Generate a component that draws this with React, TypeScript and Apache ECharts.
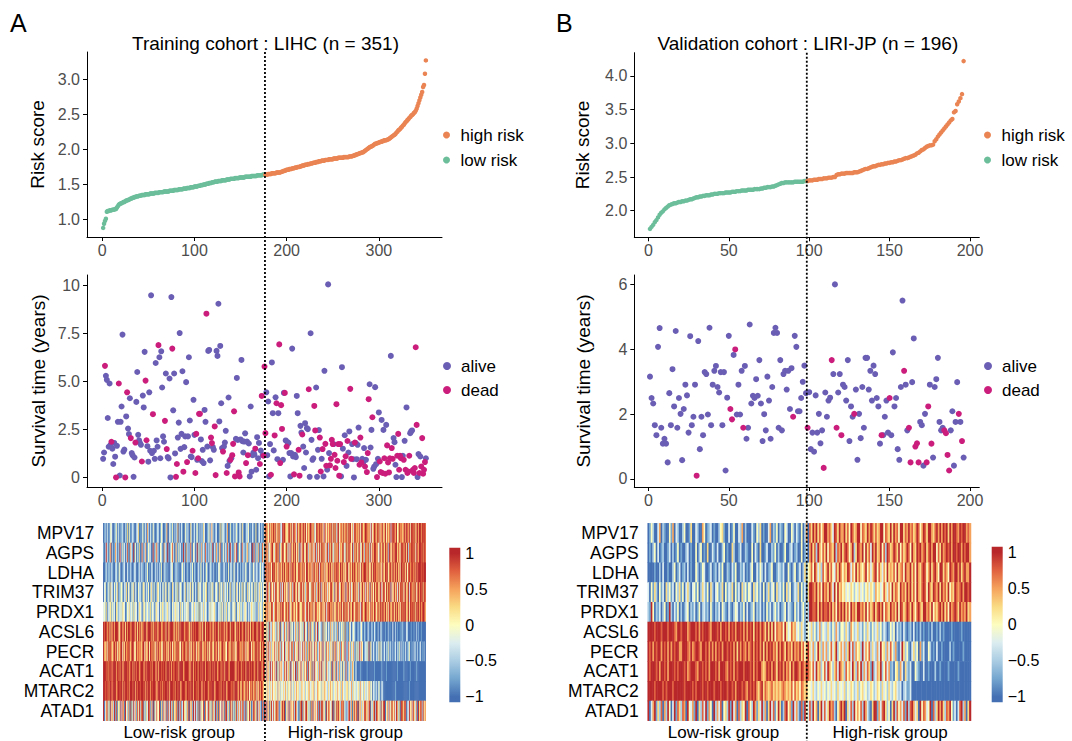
import React, { useEffect, useRef } from 'react';
import * as echarts from 'echarts';

const FONT = "'Liberation Sans', Arial, Helvetica, sans-serif";

// ---------------- data ----------------
const GENES = ['MPV17', 'AGPS', 'LDHA', 'TRIM37', 'PRDX1', 'ACSL6', 'PECR', 'ACAT1', 'MTARC2', 'ATAD1'];

const TITLE_A = 'Training cohort : LIHC (n = 351)';
const TITLE_B = 'Validation cohort : LIRI-JP (n = 196)';

const RISK_A_LOW = [
  0.88, 0.94, 0.98, 1.01, 1.11, 1.12, 1.12, 1.13, 1.13, 1.13, 1.14, 1.14, 1.14, 1.15, 1.15, 1.17, 1.19, 1.21, 1.22, 1.23,
  1.23, 1.24, 1.25, 1.25, 1.26, 1.27, 1.27, 1.28, 1.28, 1.29, 1.3, 1.3, 1.31, 1.31, 1.32, 1.32, 1.33, 1.33, 1.33, 1.34,
  1.34, 1.34, 1.35, 1.35, 1.35, 1.35, 1.36, 1.36, 1.36, 1.36, 1.36, 1.37, 1.37, 1.37, 1.37, 1.37, 1.38, 1.38, 1.38, 1.38,
  1.38, 1.39, 1.39, 1.39, 1.39, 1.39, 1.4, 1.4, 1.4, 1.4, 1.4, 1.4, 1.41, 1.41, 1.41, 1.41, 1.41, 1.42, 1.42, 1.42,
  1.42, 1.42, 1.43, 1.43, 1.43, 1.43, 1.43, 1.44, 1.44, 1.44, 1.44, 1.45, 1.45, 1.45, 1.45, 1.46, 1.46, 1.46, 1.46, 1.47,
  1.47, 1.47, 1.47, 1.48, 1.48, 1.48, 1.49, 1.49, 1.49, 1.5, 1.5, 1.5, 1.51, 1.51, 1.51, 1.52, 1.52, 1.52, 1.53, 1.53,
  1.53, 1.54, 1.54, 1.54, 1.54, 1.55, 1.55, 1.55, 1.55, 1.56, 1.56, 1.56, 1.56, 1.56, 1.57, 1.57, 1.57, 1.57, 1.58, 1.58,
  1.58, 1.58, 1.58, 1.59, 1.59, 1.59, 1.59, 1.59, 1.6, 1.6, 1.6, 1.6, 1.6, 1.6, 1.61, 1.61, 1.61, 1.61, 1.61, 1.61,
  1.61, 1.62, 1.62, 1.62, 1.62, 1.62, 1.62, 1.63, 1.63, 1.63, 1.63, 1.63, 1.63, 1.64, 1.64, 1.64,
];
const RISK_A_HIGH = [
  1.64, 1.64, 1.64, 1.65, 1.65, 1.65, 1.65, 1.66, 1.66, 1.66, 1.66, 1.66, 1.67, 1.67, 1.67, 1.67, 1.67,
  1.68, 1.68, 1.69, 1.69, 1.7, 1.7, 1.71, 1.71, 1.71, 1.72, 1.72, 1.72, 1.73, 1.73, 1.73, 1.74, 1.74, 1.74, 1.75, 1.75, 1.75, 1.76,
  1.76, 1.77, 1.77, 1.77, 1.78, 1.78, 1.78, 1.79, 1.79, 1.79, 1.8, 1.8, 1.8, 1.81, 1.81, 1.81, 1.82, 1.82, 1.82, 1.83, 1.83, 1.83, 1.84, 1.84, 1.84, 1.84, 1.85, 1.85, 1.85,
  1.85, 1.86, 1.86, 1.86, 1.86, 1.86, 1.87, 1.87, 1.87, 1.87, 1.87, 1.88, 1.88, 1.88, 1.88, 1.88, 1.88, 1.89, 1.89, 1.89, 1.89, 1.89, 1.89, 1.9, 1.9, 1.9, 1.9, 1.91,
  1.91, 1.92, 1.92, 1.93, 1.93, 1.94, 1.94, 1.95, 1.95, 1.96, 1.96, 1.97, 1.98,
  1.99, 2.0, 2.01, 2.02, 2.03, 2.04, 2.04, 2.05, 2.06, 2.07,
  2.08, 2.08, 2.09, 2.09, 2.1, 2.1, 2.11, 2.11, 2.12, 2.12, 2.13, 2.13, 2.13, 2.14, 2.14,
  2.15, 2.16, 2.17, 2.18, 2.19, 2.2, 2.21, 2.22, 2.24,
  2.25, 2.27, 2.28, 2.29, 2.31, 2.32, 2.34, 2.35, 2.37, 2.39,
  2.4, 2.42, 2.43, 2.45, 2.46, 2.48, 2.49, 2.5, 2.52, 2.53, 2.55, 2.58, 2.62, 2.66, 2.7, 2.74, 2.78, 2.82, 2.89, 2.92, 3.08, 3.27,
];

const RISK_B_LOW = [
  1.73, 1.76, 1.79, 1.83, 1.86, 1.9, 1.94, 1.97, 1.99, 2.02, 2.04, 2.06, 2.08, 2.09, 2.1, 2.11, 2.11, 2.12, 2.13, 2.13,
  2.14, 2.14, 2.15, 2.15, 2.16, 2.17, 2.17, 2.18, 2.19, 2.2, 2.2, 2.21, 2.21, 2.22, 2.22, 2.23, 2.23, 2.23, 2.24, 2.24,
  2.25, 2.25, 2.25, 2.26, 2.26, 2.26, 2.26, 2.27, 2.27, 2.27, 2.27, 2.28, 2.28, 2.28, 2.29, 2.29, 2.29, 2.3, 2.3, 2.3,
  2.3, 2.31, 2.31, 2.31, 2.31, 2.32, 2.32, 2.32, 2.32, 2.33, 2.33, 2.34, 2.34, 2.35, 2.35, 2.35, 2.36, 2.36, 2.37, 2.38,
  2.39, 2.4, 2.41, 2.41, 2.42, 2.42, 2.42, 2.42, 2.42, 2.42, 2.43, 2.43, 2.43, 2.43, 2.43, 2.43, 2.44, 2.44,
];
const RISK_B_HIGH = [
  2.44, 2.45, 2.45, 2.45, 2.46, 2.46, 2.46, 2.47, 2.47, 2.47, 2.48, 2.48, 2.48, 2.49, 2.49, 2.49, 2.5, 2.5, 2.53, 2.54,
  2.54, 2.55, 2.55, 2.55, 2.56, 2.56, 2.56, 2.56, 2.56, 2.57, 2.57, 2.57, 2.58, 2.59, 2.6, 2.61, 2.62, 2.62, 2.63, 2.64,
  2.65, 2.66, 2.66, 2.67, 2.68, 2.68, 2.69, 2.69, 2.7, 2.7, 2.71, 2.71, 2.72, 2.72, 2.73, 2.73, 2.74, 2.75, 2.75, 2.76,
  2.77, 2.78, 2.78, 2.79, 2.8, 2.81, 2.82, 2.83, 2.85, 2.86, 2.88, 2.9, 2.91, 2.93, 2.95, 2.96, 2.97, 2.97, 2.98, 3.03,
  3.06, 3.1, 3.13, 3.16, 3.19, 3.22, 3.25, 3.28, 3.31, 3.34, 3.36, 3.46, 3.48, 3.58, 3.62, 3.67, 3.73, 4.22,
];

// survival time (years), ordered by risk rank
const SURV_A = [
  0.97, 1.3, 5.82, 5.3, 5.09, 3.1, 1.6, 4.9, 1.7, 1.86, 1.5, 0.7, 1.8, 1.08, 0, 1.65, 2.9, 4.9, 0.1, 2.9,
  3.7, 7.45, 1.35, 1.45, 0, 3.18, 4.44, 2.55, 2.26, 4.13, 2.05, 1.27, 1.15, 0.03, 1.04, 1.82, 3.94, 5.5, 2.22, 1.93,
  1.79, 1.7, 0.83, 4.27, 3.65, 6.55, 5.05, 1.94, 1.63, 0.82, 4.44, 1.39, 9.5, 1.27, 3.3, 1.39, 0.97, 5.97, 1.93, 1.6,
  6.9, 6.27, 1.0, 6.58, 4.69, 2.14, 1.86, 2.95, 5.42, 1.48, 1.06, 0.99, 5.16, 0, 9.41, 6.72, 3.5, 5.42, 1.25, 0.03,
  0.7, 2.08, 2.86, 7.53, 1.49, 2.27, 5.54, 0.3, 1.58, 2.14, 4.97, 0.8, 2.14, 6.27, 2.97, 1.09, 1.06, 1.39, 4.05, 2.22,
  0.23, 2.27, 0.92, 1.0, 3.32, 3.32, 1.98, 0.85, 1.44, 0.75, 3.52, 2.9, 8.54, 1.61, 6.6, 6.65, 0.89, 2.08, 1.79, 1.58,
  1.44, 2.66, 0.12, 6.6, 6.34, 9.06, 2.92, 6.86, 3.87, 1.53, 1.35, 1.61, 1.82, 2.43, 0.23, 0.6, 4.17, 0.85, 0.92, 1.0,
  1.16, 1.75, 3.45, 0.05, 2.01, 5.19, 1.96, 0.26, 0.05, 1.98, 6.13, 1.89, 1.3, 1.87, 2.3, 0.75, 1.87, 1.16, 1.77, 0.05,
  3.7, 0.3, 1.16, 1.3, 1.2, 1.5, 0.4, 2.1, 1.0, 1.8, 0.7, 1.4, 4.25, 1.16, 1.13, 5.78,
  2.31, 4.44, 1.16, 3.96, 0.05, 1.74, 0.14, 6.0, 3.35, 1.41, 2.19, 4.18, 3.87, 0.95, 3.35, 6.94, 0.75, 3.77, 2.53, 0.92,
  4.41, 4.41, 1.93, 1.61, 1.84, 1.79, 1.27, 0.05, 1.27, 6.72, 1.09, 0.16, 1.18, 1.06, 4.25, 3.35, 1.44, 0.09, 2.69, 2.34,
  2.24, 1.61, 0.49, 2.83, 1.3, 2.57, 2.52, 4.6, 0.03, 7.52, 1.96, 0.92, 1.0, 3.73, 2.45, 4.69, 0.03, 1.44, 2.47, 2.08,
  0.31, 0.97, 1.48, 0.05, 5.56, 1.75, 0.61, 0.4, 10.07, 1.27, 0.63, 0.97, 1.96, 1.74, 1.74, 1.18, 0.49, 3.82, 0.87, 1.74,
  0.09, 1.74, 0.05, 5.75, 1.5, 0.8, 2.2, 1.1, 0.6, 1.9, 1.3,
  2.4, 4.62, 0.97, 1.74, 0.95, 0, 1.82, 1.79, 0.95, 1.7, 2.6, 0.66, 2.08, 0.78, 0.97, 0.78,
  1.53, 0.57, 0.92, 0.28, 1.27, 4.08, 4.86, 1.56, 2.48, 3.14, 0.45, 0.57, 4.71, 0.69, 0.02, 0.97, 3.39, 0.83, 0.28, 3.0,
  0.23, 2.48, 1.0, 0.19, 2.74, 1.67, 0.78, 0.26, 1.0, 6.34, 1.53, 0.97, 2.05, 1.84, 0.66, 0.02, 1.13, 2.27, 0.4, 1.13,
  1.0, 0.02, 1.13, 0.92, 1.91, 0.4, 3.65, 0.23, 0.31, 1.13, 2.31, 2.4, 2.45, 0.4, 0.23, 0.49, 6.79, 2.74, 0.02, 1.22,
  0.23, 1.09, 0.57, 2.05, 0.19, 0.4, 0.8, 1.0,
];
// 1 = dead, 0 = alive
const STATUS_A =
  '00100000010000100100' + '00001010001000010000' + '00100011000000100000' + '10000001010000010001' +
  '10000001000100000100' + '11011100000010000110' + '01100000001000100010' + '11110001100000010100' +
  '0000010000101011' +
  '10000010001010011110' + '01010000000100001100' + '10000001000001100001' + '10100110001111011111' +
  '1100' + '0101010' + '0110001000011100' + '01011100010000100110' + '10110111101100001111' +
  '10010101110001111100' + '10111110';

const SURV_B = [
  3.16, 2.5, 2.33, 1.66, 1.35, 4.08, 4.66, 1.58, 1.09, 1.24, 1.09, 0.51, 2.65, 1.66, 3.39, 2.24, 4.57, 1.58, 2.5, 2.01,
  0.58, 2.16, 2.91, 2.58, 1.43, 4.41, 1.66, 1.92, 2.91, 0.1, 4.26, 0.92, 1.92, 1.35, 3.3, 3.24, 1.99, 4.67, 1.66, 2.91,
  3.34, 3.49, 2.84, 2.67, 3.3, 1.66, 3.3, 0.26, 2.51, 4.42, 2.16, 1.84, 3.83, 4.0, 1.99, 2.91, 1.99, 3.34, 1.58, 3.49,
  1.24, 1.58, 4.77, 2.33, 2.57, 2.5, 3.08, 2.57, 3.67, 2.33, 1.17, 2.0, 1.5, 3.16, 2.42, 1.24, 2.84, 4.51, 4.67, 4.51,
  1.58, 3.67, 1.5, 3.24, 3.34, 2.76, 3.34, 2.16, 3.42, 1.92, 4.42, 4.08, 2.09, 2.09, 2.5, 3.0, 3.5, 2.65,
  1.58, 2.68, 0.92, 1.43, 0.84, 2.58, 1.43, 2.01, 1.1, 1.5, 0.34, 2.67, 1.92, 2.42, 2.51, 3.67, 3.24, 6.01, 1.58, 2.67,
  3.24, 1.35, 2.91, 2.84, 2.42, 3.67, 1.17, 2.24, 1.92, 2.01, 2.76, 0.59, 2.01, 1.26, 2.84, 1.58, 3.74, 3.74, 2.76, 3.34,
  2.42, 3.5, 3.24, 2.5, 2.24, 1.09, 1.35, 1.35, 1.92, 2.42, 1.43, 2.5, 1.35, 3.91, 2.24, 2.5, 0.92, 0.59, 2.84, 5.51,
  3.34, 2.91, 1.5, 1.58, 0.51, 2.99, 4.34, 1.0, 1.1, 0.51, 1.76, 1.66, 0.41, 2.01, 0.51, 2.24, 2.91, 1.09, 0.66, 2.84,
  3.08, 3.74, 1.76, 1.5, 1.58, 1.5, 1.41, 0.74, 0.26, 1.5, 2.09, 0.41, 1.76, 2.99, 2.01, 1.76, 1.17, 0.66,
];
const STATUS_B =
  '00000000000000000000' + '00000000010000000000' + '00000000001101000010' + '00000000000000000000' +
  '000000000100000000' +
  '10000000001000010010' + '01000000010000000000' + '00000010000100000000' + '10011001110000110100' +
  '000001111000001010';

// expression z-scores, one digit per patient: 0..8 -> -1..1 (low-risk | high-risk)
const HEAT_LEVELS = [-1, -0.75, -0.5, -0.25, 0, 0.25, 0.5, 0.75, 1];
const HEAT_A = [
  '0120310243 0012403102 1300215041 0231002350 1024013062 0310420013 2014300126 0032140203 1602031004 2130052013 0241030215 3001240362 1023001504 2310260041 0130241023 0520013240 1032015002 302104|8675485768 6847586238 7865468758 4876385687 5786847568 8576248768 6857386475 7684858627 8467585768 5878463786 6758487568 8675738468 7586847685 6847568387 8768458676 5786876848 7868578688 68787',
  '1028310470 2016302183 0413027106 3208140215 0172036014 2301820472 1043106230 8102473016 2041301820 6130271043 0281402613 1720304128 0316204710 2403172083 1026380142 0731204612 3081720416 021740|6857246785 3678581468 7458627386 5868475183 6784587264 8573682748 4868573682 7586248576 8365784268 5876482758 6487358627 7586284768 8674386587 5867287468 6788576487 8678582768 7868487688 78687',
  '0013021203 1002310420 0123003102 2001320013 0312002140 1023001302 0214003120 1002340021 3010024130 0210031402 1003204103 0142003210 2001034201 0320104023 1042003102 0130241003 2104302310 241320|7685867487 8576486758 6857687486 8768547867 5867488576 7486857683 8675847568 6857486787 7586857468 8467586875 6857486788 7586468587 8675857486 5878468758 7686857488 6875847867 8768687888 78788',
  '0340124053 2041350214 4103250430 1425031042 3104520314 0253041025 4130240351 0421053024 1503420135 0241350420 3105243014 2450130425 1034205143 0523140250 3142053041 2504310524 1340251403 524134|6387528647 3785468273 8574628457 2786485368 7485267843 5868472685 8274685736 4786528468 7358674827 6847358684 7528468573 8467285748 5786478368 7485868274 6857384786 8478568387 7586847868 78587',
  '3425032451 4230541324 2543014352 3415243025 4302541342 2514320453 3042541324 5231042354 2430524132 4352013425 3241504325 2430135243 4521032415 3042513420 2435104352 4123542031 3542413025 243154|6758465873 5786475868 7468578356 8657468745 5876378486 7584687564 6857468377 8675846587 5768478586 7486587468 6857387568 8576486758 7468578687 6857487568 7586857478 6878568487 7868587868 67886',
  '8788678586 7868887468 8678586887 6888768586 8576888678 8868578786 7886687858 8678887586 6858788867 8786586878 7888676858 8587886786 6878858687 8768678858 7886587868 8678858768 5876888678 867885|4625183264 5316248053 2741638152 4036251734 2518430627 1452063814 3206152403 1625304216 0314251602 1053024310 0210341021 0031002103 1002003100 0100201003 0020100102 1000320001 0010020100 10000',
  '8657486876 5786847568 8475867785 6887458676 7568847568 4876857486 8675486875 7586847658 6875486787 5868475867 8476587856 7685846875 5876847568 8675487658 6857468876 7586847568 8476587868 758687|5274836254 7362584173 4825367248 6173548263 3847261584 7253846137 4628351746 2536174825 3617452830 2741536204 1528364013 2417052031 0312504201 3021403102 0130214030 2103012401 0203102013 01020',
  '8887868787 7888687868 8678887867 8868787886 7888678788 8786888678 6887878868 8878687788 7868888678 8887678868 7886887878 8688786887 8788678868 7868887688 8887678788 6878868887 8788678868 887688|5274628374 6381527463 2748365182 4638172548 3526471835 6172843527 4826351742 3518264073 1624053172 0351264013 0000100000 0100000001 0000000100 0010000000 0000100000 0100000010 0000010000 00000',
  '8878786887 7888678878 8687887868 8878868788 7888786878 8687888767 8878687888 7868887868 8788678887 6887878868 8786888678 7888678788 8678887868 8788678887 7868887686 5876587684 7685768475 868764|4536425364 3542635243 5364254362 4253645324 6435243563 3546243654 4253564325 3645234536 4352643245 5243625342 3452634253 2436524032 1302410320 0000000000 0010000000 0000000100 0000000000 00000',
  '8036725184 6281704528 3760842617 0528361748 2687041538 7162805374 4805173628 1738260547 6082713854 2570846183 8316072548 0743862517 5281607438 3607825184 7140582637 2683071548 5027846183 620718|7284605837 3586720468 6805372846 4728631058 8163785240 5827463718 2786350847 6348072586 8527684130 3782605847 7084625378 5637804268 2875361748 8046273586 4738625078 6587023846 3864270857 72846',
];
const HEAT_B = [
  '0142003602 1004160320 0240015003 2006401230 1002451003 0140032602 0003104250 1003602140 2104300420 31040260|7586857468 8675387586 6857487568 8476586875 7568847658 5867488576 8675687468 7588657868 6878586887 68788676',
  '0102403012 0013020140 1002301004 0240105003 1030024010 0520013002 1004031050 0130021402 0014002301 20040130|6857286475 8476582768 5787468258 7684857386 8568472875 6875847568 7486587867 8578688475 8678786887 88687886',
  '0000100203 0010024013 0120301004 2014300130 1203140021 0314002130 1024003142 0301240013 2130041024 01302514|5748635274 6857437586 4658736485 7546846357 8475364856 5748567486 6857486578 7468578648 8576487688 68578668',
  '3041520413 0524130425 1403520341 4025314052 0341250413 2504130524 1430524130 4025134052 3140524013 25041305|8876857486 7586384856 4534354243 5342453542 6453475364 8576486758 6857486578 7486587685 8675846587 67868878',
  '2184021302 4018203140 2013402130 1402312041 0213042103 1024302140 3012402130 2041302413 0124032104 13024132|8877858687 7868574868 6857486758 8675847568 5786847658 6758487568 7586478658 8675846578 6857486787 58676856',
  '8888788878 8878887688 7888678887 8687888768 8878688786 8786887868 6878587868 7585858476 6748534756 34253134|3524136243 2531426314 4253164235 2314253142 3524132014 2403120310 1203010201 0010200102 0100001000 00100000',
  '8786878868 7868687886 6888768678 8768878686 8687868878 7868586876 8678687868 5868786758 6875867586 76857468|5362485263 6247358246 3625837264 5283647253 2638452637 4261038524 1035240613 0042010300 1000020100 00010000',
  '8788878688 7868887878 8878678887 6887878688 8786888768 7868788878 8878687886 5687868758 7868675868 87687687|6473856247 3864257386 5274638527 4826375182 3658247361 2045163052 1300421003 0010002001 0000100000 10000000',
  '8888788887 8788878888 8878888787 8887887888 7888788878 8786888787 6878786578 5765675656 5676565747 56476564|4353243534 2435342534 3524354235 2453423542 3542534253 2453230231 1300000000 0000000000 0000000000 00000000',
  '8036815270 6284038175 2760843618 0527381640 8263704528 1836072548 0742861538 2605837148 5027846183 62071843|7284605837 3586720468 6805372846 4728631058 8163785240 5827463718 2786350847 6348072586 8527684130 37826058',
];

// axis ranges & ticks
const X_RANGE_A = [-16.5, 368.5];
const X_TICKS_A = [0, 100, 200, 300];
const X_RANGE_B = [-8.75, 205.75];
const X_TICKS_B = [0, 50, 100, 150, 200];
const RISK_RANGE_A = [0.75, 3.39];
const RISK_TICKS_A = [1, 1.5, 2, 2.5, 3];
const RISK_RANGE_B = [1.605, 4.345];
const RISK_TICKS_B = [2, 2.5, 3, 3.5, 4];
const SURV_RANGE_A = [-0.5, 10.56];
const SURV_TICKS_A = [0, 2.5, 5, 7.5, 10];
const SURV_LABELS_A = ['0', '2.5', '5.0', '7.5', '10'];
const SURV_RANGE_B = [-0.25, 6.3];
const SURV_TICKS_B = [0, 2, 4, 6];
const SURV_LABELS_B = ['0', '2', '4', '6'];
const CB_MAX = 1.078;
const CB_TICKS = [-1, -0.5, 0, 0.5, 1];
const CB_LABELS = ['\u22121', '\u22120.5', '0', '0.5', '1'];

// ---------------- style / layout ----------------
const PALETTE = ['#4470B3', '#74A6CF', '#ABCDE3', '#DCEDF0', '#FDFDBF', '#FADB84', '#F5A25C', '#E0613F', '#B8272A'];
const C_LOW = '#6CBE9B';
const C_HIGH = '#EA8453';
const C_ALIVE = '#6A5DB4';
const C_DEAD = '#CB1D7B';

const LAYOUT = [
  { letterX: 10, plotLeft: 87, plotW: 355, riskTop: 52, riskH: 185, survTop: 275, survH: 212,
    heatLeft: 103.3, heatW: 322.4, heatTop: 523.3, heatH: 197.4, cbLeft: 449.3, cbTop: 547.7, cbH: 154.6,
    legendLeft: 443, riskNameGap: 40, survNameGap: 39 },
  { letterX: 556, plotLeft: 634.3, plotW: 345, riskTop: 52.7, riskH: 184.6, survTop: 275, survH: 212,
    heatLeft: 647.7, heatW: 323.3, heatTop: 523.3, heatH: 197.4, cbLeft: 991.7, cbTop: 546.7, cbH: 155.6,
    legendLeft: 984, riskNameGap: 42, survNameGap: 41 },
];

const PANELS = [
  { letter: 'A', title: TITLE_A, low: RISK_A_LOW, high: RISK_A_HIGH, surv: SURV_A, status: STATUS_A, heat: HEAT_A,
    xRange: X_RANGE_A, xTicks: X_TICKS_A, riskRange: RISK_RANGE_A, riskTicks: RISK_TICKS_A,
    survRange: SURV_RANGE_A, survTicks: SURV_TICKS_A, survLabels: SURV_LABELS_A },
  { letter: 'B', title: TITLE_B, low: RISK_B_LOW, high: RISK_B_HIGH, surv: SURV_B, status: STATUS_B, heat: HEAT_B,
    xRange: X_RANGE_B, xTicks: X_TICKS_B, riskRange: RISK_RANGE_B, riskTicks: RISK_TICKS_B,
    survRange: SURV_RANGE_B, survTicks: SURV_TICKS_B, survLabels: SURV_LABELS_B },
];

const fmt = (ticks: number[], labels: string[]) => (v: number) => {
  const i = ticks.findIndex((t) => Math.abs(t - v) < 1e-9);
  return i >= 0 ? labels[i] : String(v);
};

const valueAxis = (gridIndex: number, range: number[], ticks: number[], labels: string[], margin: number, extra: any = {}) => ({
  type: 'value',
  gridIndex,
  min: range[0],
  max: range[1],
  axisLine: { show: true, onZero: false, lineStyle: { color: '#000', width: 1 } },
  axisTick: { show: true, length: 4, customValues: ticks, lineStyle: { color: '#000', width: 1 } },
  axisLabel: { customValues: ticks, color: '#4D4D4D', fontSize: 16, fontFamily: FONT, margin, formatter: fmt(ticks, labels) },
  splitLine: { show: false },
  ...extra,
});

function buildOption() {
  const grid: any[] = [];
  const xAxis: any[] = [];
  const yAxis: any[] = [];
  const series: any[] = [];
  const legend: any[] = [];
  const heatSeriesIdx: number[] = [];

  PANELS.forEach((P, k) => {
    const L = LAYOUT[k];
    const g = 4 * k;
    const n = P.low.length + P.high.length;
    grid.push({ left: L.plotLeft, top: L.riskTop, width: L.plotW, height: L.riskH });
    grid.push({ left: L.plotLeft, top: L.survTop, width: L.plotW, height: L.survH });
    grid.push({ left: L.heatLeft, top: L.heatTop, width: L.heatW, height: L.heatH });
    grid.push({ left: L.cbLeft, top: L.cbTop, width: 11, height: L.cbH });

    const xl = P.xTicks.map(String);
    xAxis.push(valueAxis(g, P.xRange, P.xTicks, xl, 5));
    xAxis.push(valueAxis(g + 1, P.xRange, P.xTicks, xl, 5));
    xAxis.push({ type: 'category', gridIndex: g + 2, data: Array.from({ length: n }, (_, i) => String(i + 1)), show: false });
    xAxis.push({ type: 'category', gridIndex: g + 3, data: ['c'], show: false });

    const nameStyle = { color: '#000', fontSize: 19, fontFamily: FONT };
    yAxis.push(valueAxis(g, P.riskRange, P.riskTicks, P.riskTicks.map((v) => v.toFixed(1)), 7, {
      name: 'Risk score', nameLocation: 'middle', nameGap: L.riskNameGap, nameRotate: 90, nameTextStyle: nameStyle,
    }));
    yAxis.push(valueAxis(g + 1, P.survRange, P.survTicks, P.survLabels, 7, {
      name: 'Survival time (years)', nameLocation: 'middle', nameGap: L.survNameGap, nameRotate: 90, nameTextStyle: nameStyle,
    }));
    yAxis.push({
      type: 'category', gridIndex: g + 2, data: GENES, inverse: true,
      axisLine: { show: false }, axisTick: { show: false }, splitLine: { show: false },
      axisLabel: { interval: 0, color: '#000', fontSize: 17.5, fontFamily: FONT, margin: 9 },
    });
    yAxis.push({
      type: 'value', gridIndex: g + 3, min: -CB_MAX, max: CB_MAX, position: 'right',
      axisLine: { show: false }, axisTick: { show: false }, splitLine: { show: false },
      axisLabel: { customValues: CB_TICKS, color: '#000', fontSize: 16, fontFamily: FONT, margin: 5, formatter: fmt(CB_TICKS, CB_LABELS) },
    });

    // risk score
    series.push({
      type: 'scatter', name: 'low risk', xAxisIndex: g, yAxisIndex: g, symbolSize: 4.5, progressive: 0,
      itemStyle: { color: C_LOW, opacity: 1 }, data: P.low.map((v, i) => [i + 1, v]), silent: true,
    });
    series.push({
      type: 'scatter', name: 'high risk', xAxisIndex: g, yAxisIndex: g, symbolSize: 4.5, progressive: 0,
      itemStyle: { color: C_HIGH, opacity: 1 }, data: P.high.map((v, i) => [P.low.length + i + 1, v]), silent: true,
    });
    // survival
    const alive: number[][] = [];
    const dead: number[][] = [];
    P.surv.forEach((v, i) => (P.status[i] === '1' ? dead : alive).push([i + 1, v]));
    series.push({
      type: 'scatter', name: 'alive', xAxisIndex: g + 1, yAxisIndex: g + 1, symbolSize: 6, progressive: 0,
      itemStyle: { color: C_ALIVE, opacity: 1 }, data: alive, silent: true,
    });
    series.push({
      type: 'scatter', name: 'dead', xAxisIndex: g + 1, yAxisIndex: g + 1, symbolSize: 6, progressive: 0,
      itemStyle: { color: C_DEAD, opacity: 1 }, data: dead, silent: true,
    });
    // heatmap
    const hdata: number[][] = [];
    P.heat.forEach((row, r) => {
      row.replace(/[\s|]/g, '').split('').forEach((c, j) => hdata.push([j, r, HEAT_LEVELS[+c]]));
    });
    heatSeriesIdx.push(series.length);
    series.push({
      type: 'heatmap', xAxisIndex: g + 2, yAxisIndex: g + 2, data: hdata, progressive: 0, silent: true,
      itemStyle: { borderWidth: 0 }, emphasis: { disabled: true },
    });
    // colour bar
    series.push({
      type: 'custom', xAxisIndex: g + 3, yAxisIndex: g + 3, data: [[0, 0]], silent: true,
      renderItem: (params: any) => {
        const cs = params.coordSys;
        const stops: any[] = [{ offset: 0, color: PALETTE[PALETTE.length - 1] }];
        PALETTE.slice().reverse().forEach((c, i) => {
          const v = 1 - (2 * i) / (PALETTE.length - 1);
          stops.push({ offset: (CB_MAX - v) / (2 * CB_MAX), color: c });
        });
        stops.push({ offset: 1, color: PALETTE[0] });
        return {
          type: 'rect',
          shape: { x: cs.x, y: cs.y, width: cs.width, height: cs.height },
          style: { fill: new echarts.graphic.LinearGradient(0, 0, 0, 1, stops) },
        };
      },
    });

    const lt = { fontSize: 17, color: '#000', fontFamily: FONT };
    legend.push({ left: L.legendLeft, top: 126.5, orient: 'vertical', data: ['high risk', 'low risk'], icon: 'circle',
      itemWidth: 18, itemHeight: 7, itemGap: 8, padding: 0, selectedMode: false, textStyle: lt });
    legend.push({ left: L.legendLeft, top: 357.5, orient: 'vertical', data: ['alive', 'dead'], icon: 'circle',
      itemWidth: 18, itemHeight: 8, itemGap: 7, padding: 0, selectedMode: false, textStyle: lt });
  });

  return {
    animation: false,
    backgroundColor: '#fff',
    textStyle: { fontFamily: FONT },
    grid,
    xAxis,
    yAxis,
    legend,
    visualMap: [{ type: 'continuous', min: -1, max: 1, show: false, seriesIndex: heatSeriesIdx, inRange: { color: PALETTE } }],
    series,
  };
}

function buildGraphics(chart: any) {
  const out: any[] = [];
  const txt = (x: number, y: number, text: string, size: number, align = 'center') => ({
    type: 'text', x, y, z: 50, silent: true,
    style: { text, fontSize: size, fontFamily: FONT, fill: '#000', textAlign: align, align, textVerticalAlign: 'middle', verticalAlign: 'middle' },
  });
  PANELS.forEach((P, k) => {
    const L = LAYOUT[k];
    const g = 4 * k;
    const nLow = P.low.length;
    const n = nLow + P.high.length;
    out.push(txt(L.letterX, 23, P.letter, 25, 'left'));
    out.push(txt(L.plotLeft + L.plotW / 2 + 1, 43.5, P.title, 19));
    const cut = chart.convertToPixel({ xAxisIndex: g }, nLow + 0.5) as number;
    out.push({
      type: 'line', z: 60, silent: true,
      shape: { x1: cut, y1: L.riskTop, x2: cut, y2: 741 },
      style: { stroke: '#000', lineWidth: 1.8, lineDash: [2, 2] },
    });
    const c0 = chart.convertToPixel({ xAxisIndex: g + 2 }, 0) as number;
    const c1 = chart.convertToPixel({ xAxisIndex: g + 2 }, nLow - 1) as number;
    const c2 = chart.convertToPixel({ xAxisIndex: g + 2 }, nLow) as number;
    const c3 = chart.convertToPixel({ xAxisIndex: g + 2 }, n - 1) as number;
    const gy = L.heatTop + L.heatH + 12;
    out.push(txt((c0 + c1) / 2 - 5, gy, 'Low-risk group', 17));
    out.push(txt((c2 + c3) / 2, gy, 'High-risk group', 17));
  });
  return out;
}

export default function App() {
  const ref = useRef<HTMLDivElement>(null);
  useEffect(() => {
    const chart = echarts.init(ref.current!, null, { renderer: 'svg' });
    chart.setOption(buildOption() as any);
    chart.setOption({ graphic: buildGraphics(chart) } as any);
    return () => chart.dispose();
  }, []);
  return <div ref={ref} style={{ position: 'absolute', left: 0, top: 0, width: 1072, height: 741, background: '#fff' }} />;
}
